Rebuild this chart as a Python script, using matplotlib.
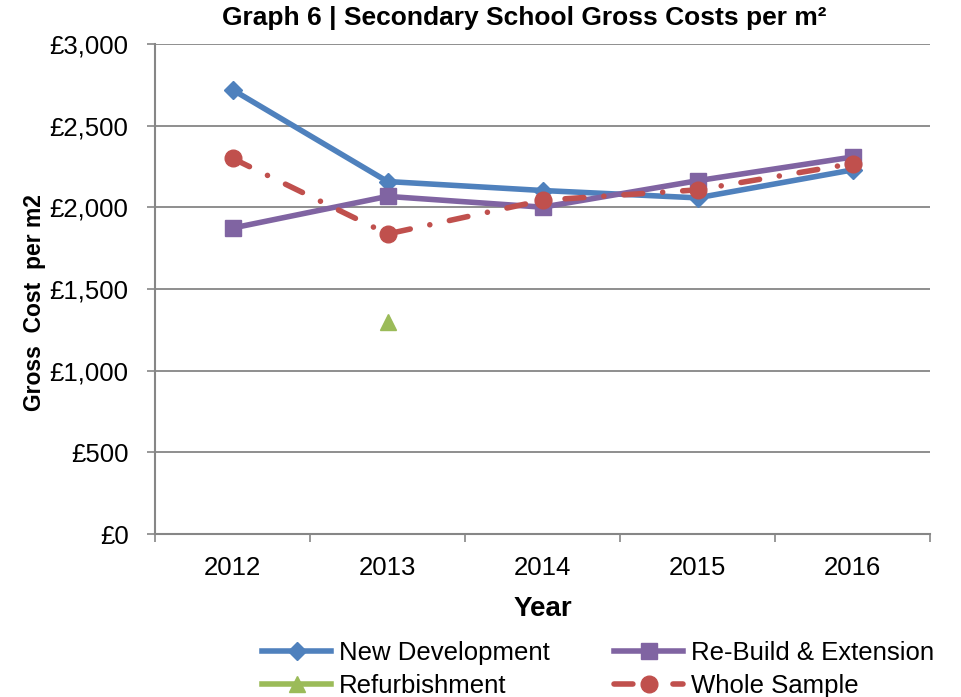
import numpy as np
import matplotlib.pyplot as plt
from matplotlib.ticker import FuncFormatter, FixedLocator

plt.rcParams['font.family'] = ['Liberation Sans', 'DejaVu Sans']

years = ['2012', '2013', '2014', '2015', '2016']
new_development = [2720, 2158, 2103, 2058, 2229]
rebuild_extension = [1873, 2067, 2001, 2163, 2308]
refurbishment = [np.nan, 1298, np.nan, np.nan, np.nan]
whole_sample = [2300, 1837, 2043, 2107, 2268]

fig = plt.figure(figsize=(9.61, 6.97), dpi=100)
ax = fig.add_axes([155 / 961, 1 - 534 / 697, 775 / 961, 490 / 697])

x = np.arange(len(years))
lw = 4.0
h_nd, = ax.plot(x, new_development, color='#4F81BD', lw=lw, marker='D', ms=9.5,
                label='New Development', zorder=3)
h_rb, = ax.plot(x, rebuild_extension, color='#8064A2', lw=lw, marker='s', ms=11,
                label='Re-Build & Extension', zorder=3)
h_rf, = ax.plot(x, refurbishment, color='#9BBB59', lw=lw, marker='^', ms=12,
                label='Refurbishment', zorder=3)
h_ws, = ax.plot(x, whole_sample, color='#C0504D', lw=lw, marker='o', ms=12,
                dashes=(3.4, 3.6, 0.01, 3.6), dash_capstyle='round',
                label='Whole Sample', zorder=4)

ax.set_xlim(-0.5, len(years) - 0.5)
ax.set_ylim(0, 3000)
ax.set_yticks(np.arange(0, 3001, 500))
ax.yaxis.set_major_formatter(FuncFormatter(lambda v, p: f'£{v:,.0f}'))
ax.set_xticks(x)
ax.set_xticklabels(years)
ax.xaxis.set_minor_locator(FixedLocator(np.arange(-0.5, len(years), 1)))
ax.tick_params(axis='x', which='major', length=0, pad=16, labelsize=18.5)
ax.tick_params(axis='x', which='minor', length=6, width=1.2, color='#868686')
ax.tick_params(axis='y', length=6, width=1.2, color='#868686', pad=13,
               labelsize=18.5)

ax.grid(axis='y', color='#868686', lw=1.3)
ax.set_axisbelow(True)
for s in ['top', 'right']:
    ax.spines[s].set_visible(False)
for s in ['left', 'bottom']:
    ax.spines[s].set_color('#868686')
    ax.spines[s].set_linewidth(1.5)

fig.text(524 / 961, 1 - 18 / 697, 'Graph 6 | Secondary School Gross Costs per m²',
         fontsize=19, fontweight='bold', ha='center', va='center')
ax.set_ylabel('Gross  Cost  per m2', fontsize=16.5, fontweight='bold')
ax.yaxis.set_label_coords(-0.141, 0.473)
ax.set_xlabel('Year', fontsize=20, fontweight='bold', labelpad=11)

# legend filled row by row: ND, RB on top, Refurb, WS underneath
fig.legend([h_nd, h_rf, h_rb, h_ws],
           ['New Development', 'Refurbishment', 'Re-Build & Extension', 'Whole Sample'],
           loc='upper left', bbox_to_anchor=(262 / 961, 1 - 641 / 697), ncol=2,
           frameon=False, fontsize=18.5, handlelength=2.7, columnspacing=2.5,
           handletextpad=0.3, labelspacing=0.35, borderpad=0, borderaxespad=0)

fig.savefig('out.png', dpi=100)
